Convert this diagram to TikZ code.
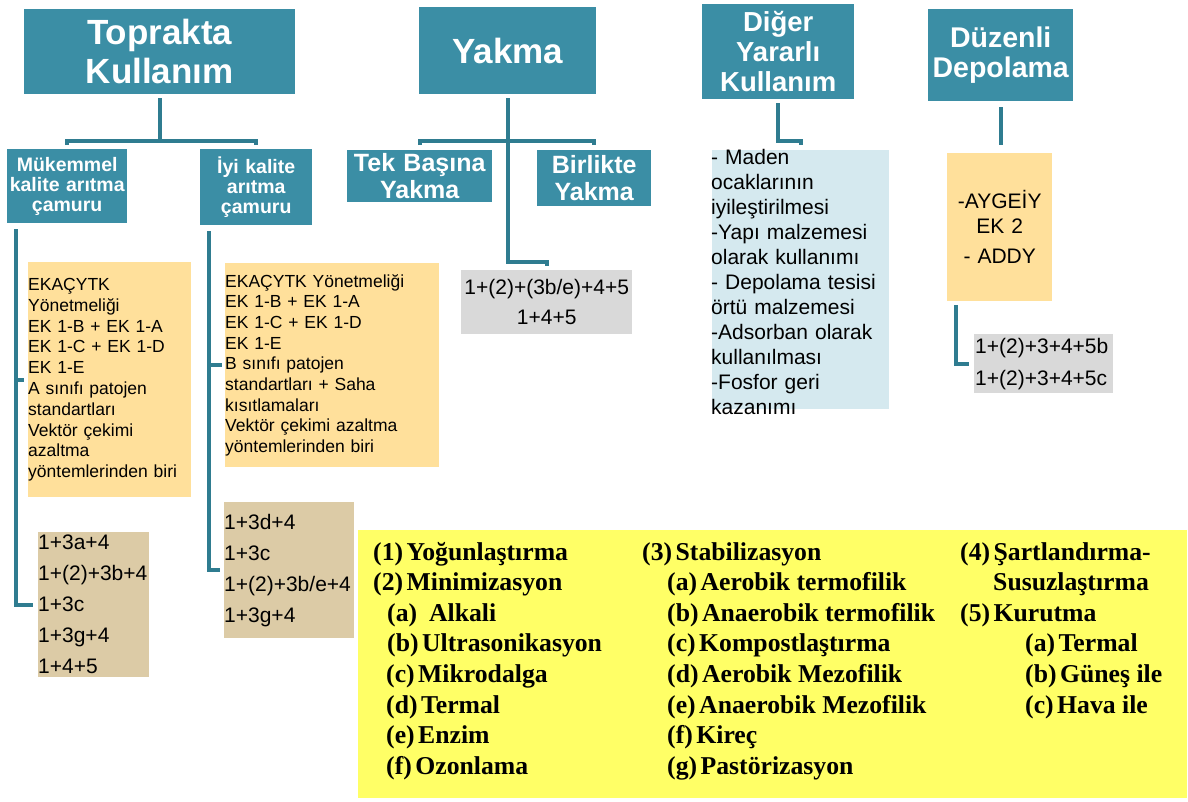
\documentclass[tikz,border=0pt]{standalone}
\usepackage{fontspec}
\setmainfont{Liberation Sans}
\newfontfamily\legfont{Liberation Serif}
\usetikzlibrary{calc}
\definecolor{tealbox}{RGB}{59,142,165}
\definecolor{tealline}{RGB}{47,124,144}
\definecolor{orangebox}{RGB}{255,224,155}
\definecolor{tanbox}{RGB}{220,203,166}
\definecolor{greybox}{RGB}{217,217,217}
\definecolor{bluebox}{RGB}{213,233,239}
\definecolor{yellowbox}{RGB}{255,255,102}
\newcommand{\lsp}{\hspace{3.5pt}}
\begin{document}
\begin{tikzpicture}[x=1pt,y=-1pt,
  titlebox/.style={fill=tealbox,text=white,inner sep=0pt,anchor=north west,align=center},
  bodybox/.style={inner sep=0pt,anchor=north west},
  conn/.style={draw=tealline,line width=4pt,line join=miter},
  leg/.style={anchor=base west,inner sep=0pt,font={\legfont\bfseries\fontsize{25.7}{28}\selectfont}}]
\useasboundingbox (0,0) rectangle (1188,801);
% ---- title boxes
\node[titlebox,minimum width=271pt,minimum height=85pt,text width=271pt,
  font={\bfseries\fontsize{35}{39}\selectfont}] (top) at (24,9) {Toprakta\\Kullanım};
\node[titlebox,minimum width=177pt,minimum height=87pt,text width=177pt,
  font={\bfseries\fontsize{35}{39}\selectfont}] (yak) at (419,7) {Yakma};
\node[titlebox,minimum width=152pt,minimum height=95pt,text width=152pt,
  font={\bfseries\fontsize{27.5}{30}\selectfont}] (dig) at (702,4) {Diğer\\Yararlı\\Kullanım};
\node[titlebox,minimum width=145pt,minimum height=92pt,text width=145pt,
  font={\bfseries\fontsize{28.5}{30}\selectfont}] (duz) at (928,9) {Düzenli\\Depolama};
% ---- sub boxes
\node[titlebox,minimum width=120pt,minimum height=74pt,text width=120pt,
  font={\bfseries\fontsize{19.5}{20}\selectfont}] (mk) at (7,149) {Mükemmel\\kalite arıtma\\çamuru};
\node[titlebox,minimum width=112pt,minimum height=76pt,text width=112pt,
  font={\bfseries\fontsize{19.5}{20}\selectfont}] (iyi) at (200,149) {İyi kalite\\arıtma\\çamuru};
\node[titlebox,minimum width=145pt,minimum height=52pt,text width=145pt,
  font={\bfseries\fontsize{25}{27}\selectfont}] (tek) at (347,150) {Tek Başına\\Yakma};
\node[titlebox,minimum width=114pt,minimum height=56pt,text width=114pt,
  font={\bfseries\fontsize{25}{27}\selectfont}] (bir) at (537,150) {Birlikte\\Yakma};
% ---- content boxes
\node[bodybox,fill=orangebox,minimum width=163pt,minimum height=235pt,text width=163pt,align=left,
  font={\fontsize{17.5}{20.8}\selectfont}] (org1) at (28,262)
  {EKAÇYTK\\Yönetmeliği\\EK 1-B + EK 1-A\\EK 1-C + EK 1-D\\EK 1-E\\A sınıfı patojen\\standartları\\Vektör çekimi\\azaltma\\yöntemlerinden biri};
\node[bodybox,fill=orangebox,minimum width=214pt,minimum height=204pt,text width=214pt,align=left,
  font={\fontsize{17.5}{20.7}\selectfont}] (org2) at (225,263)
  {EKAÇYTK Yönetmeliği\\EK 1-B + EK 1-A\\EK 1-C + EK 1-D\\EK 1-E\\B sınıfı patojen\\standartları + Saha\\kısıtlamaları\\Vektör çekimi azaltma\\yöntemlerinden biri};
\node[bodybox,fill=tanbox,minimum width=111pt,minimum height=145pt,text width=111pt,align=left,
  font={\fontsize{21}{31}\selectfont}] (tan1) at (38,532)
  {1+3a+4\\1+(2)+3b+4\\1+3c\\1+3g+4\\1+4+5};
\node[bodybox,fill=tanbox,minimum width=130pt,minimum height=136pt,text width=130pt,align=left,
  font={\fontsize{21}{31}\selectfont}] (tan2) at (224,502)
  {1+3d+4\\1+3c\\1+(2)+3b/e+4\\1+3g+4};
\node[bodybox,fill=greybox,minimum width=171pt,minimum height=64pt,text width=171pt,align=center,
  font={\fontsize{21}{30}\selectfont}] (gry) at (461,270)
  {1+(2)+(3b/e)+4+5\\1+4+5};
\node[bodybox,fill=bluebox,minimum width=177pt,minimum height=259pt] (lb) at (712,150) {};
\node[inner sep=0pt,anchor=west,align=left,text width=180pt,
  font={\fontsize{21}{25}\selectfont}] (lbt) at ($(lb.west)+(-1,2)$)
  {- Maden\\ocaklarının\\iyileştirilmesi\\-Yapı malzemesi\\olarak kullanımı\\- Depolama tesisi\\örtü malzemesi\\-Adsorban olarak\\kullanılması\\-Fosfor geri\\kazanımı};
\node[bodybox,fill=orangebox,minimum width=105pt,minimum height=148pt,text width=105pt,align=center,
  font={\fontsize{21}{25}\selectfont}] (dorg) at (947,153)
  {-AYGEİY\\EK 2\\[5pt]- ADDY};
\node[bodybox,fill=greybox,minimum width=139pt,minimum height=59pt,text width=139pt,align=left,
  font={\fontsize{21}{32}\selectfont}] (dgr) at (974,334)
  {\hspace*{1pt}1+(2)+3+4+5b\\\hspace*{1pt}1+(2)+3+4+5c};
% ---- legend
\node[bodybox,fill=yellowbox,minimum width=829pt,minimum height=268pt] (legbox) at (358,530) {};
\foreach \px/\py/\t [count=\i] in {
  373/560/{(1)\lsp Yoğunlaştırma}, 373/590.6/{(2)\lsp Minimizasyon},
  387/621.2/{(a)\hspace{12pt}Alkali}, 387/651.8/{(b)\lsp Ultrasonikasyon},
  386/682.4/{(c)\lsp Mikrodalga}, 386/713/{(d)\lsp Termal},
  386/743.6/{(e)\lsp Enzim}, 386/774.2/{(f)\lsp Ozonlama},
  642/560/{(3)\lsp Stabilizasyon}, 667/590.6/{(a)\lsp Aerobik termofilik},
  667/621.2/{(b)\lsp Anaerobik termofilik}, 667/651.8/{(c)\lsp Kompostlaştırma},
  667/682.4/{(d)\lsp Aerobik Mezofilik}, 667/713/{(e)\lsp Anaerobik Mezofilik},
  667/743.6/{(f)\lsp Kireç}, 667/774.2/{(g)\lsp Pastörizasyon},
  960/560/{(4)\lsp Şartlandırma-}, 993/590.6/{Susuzlaştırma},
  960/621.2/{(5)\lsp Kurutma}, 1025/651.8/{(a)\lsp Termal},
  1025/682.4/{(b)\lsp Güneş ile}, 1025/713/{(c)\lsp Hava ile}}
  \node[leg] (leg\i) at (\px,\py) {\t};
% ---- connectors
\coordinate (tcb) at ($(mk.north)+(0,-8)$);
\draw[conn] ($(mk.north)+(0,-4)$) -- (tcb) -| ($(iyi.north)+(0,-4)$);
\draw[conn] ($(top.south)+(0,4)$) -- (top.south |- tcb);
\coordinate (ycb) at ($(tek.north)+(0,-9)$);
\draw[conn] ($(tek.north)+(0,-5)$) -- (ycb) -| ($(bir.north)+(0,-5)$);
\draw[conn] ($(yak.south)+(0,4)$) |- ($(gry.north)+(0,-8)$) -- ($(gry.north)+(0,-4)$);
\draw[conn] ($(dig.south)+(0,4)$) |- ($(lb.north)+(0,-9)$) -- ($(lb.north)+(0,-5)$);
\draw[conn] ($(duz.south)+(0,6)$) -- ($(duz.south |- dorg.north)+(0,-8)$);
\draw[conn] ($(dorg.south west)+(9,4)$) |- ($(dgr.west)+(-5,0)$);
\coordinate (lc) at ($(mk.south west)+(9,6)$);
\draw[conn] (lc) |- ($(tan1.west)+(-5,0)$);
\draw[conn] (lc |- org1.west) -- ($(org1.west)+(-4,0)$);
\coordinate (rc) at ($(iyi.south west)+(9,6)$);
\draw[conn] (rc) |- ($(tan2.west)+(-4,0)$);
\draw[conn] (rc |- org2.west) -- ($(org2.west)+(-3,0)$);
\end{tikzpicture}
\end{document}
